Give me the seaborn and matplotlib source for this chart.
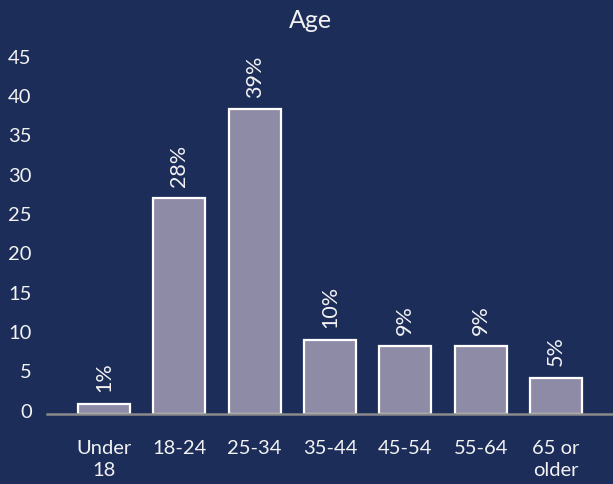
import pandas as pd
import matplotlib
matplotlib.use("Agg")
import matplotlib.pyplot as plt
import matplotlib.transforms as mtransforms
import seaborn as sns

# --- Data ---
age_groups = ['Under\n18', '18-24', '25-34', '35-44', '45-54', '55-64', '65 or\nolder']
share = [1.3, 27.4, 38.7, 9.4, 8.6, 8.6, 4.6]
share_labels = ['1%', '28%', '39%', '10%', '9%', '9%', '5%']

df = pd.DataFrame({'age': age_groups, 'share': share})

# --- Style ---
bg = '#1c2d5a'
bar_color = '#8e8ba6'
text_color = '#f2f2f2'

sns.set_style('white')
plt.rcParams['font.family'] = ['Lato', 'DejaVu Sans']

fig = plt.figure(figsize=(6.13, 4.85), dpi=100, facecolor=bg)
ax = fig.add_axes([47 / 613, 70 / 485, 566 / 613, 374 / 485], facecolor=bg)

sns.barplot(
    data=df, x='age', y='share', color=bar_color, saturation=1,
    edgecolor='white', linewidth=1.6, width=0.69, ax=ax
)

# value labels above bars
ax.bar_label(ax.containers[0], labels=share_labels, rotation=90,
             padding=9, color=text_color, fontsize=15.5)

ax.set_xlim(-0.757, 6.757)
ax.set_ylim(0, 47.5)
ax.set_yticks(range(0, 50, 5))
ax.set_xlabel('')
ax.set_ylabel('')

for side in ['top', 'right', 'left']:
    ax.spines[side].set_visible(False)
ax.spines['bottom'].set_color('#8a8a8a')
ax.spines['bottom'].set_linewidth(1.8)
ax.spines['bottom'].set_zorder(5)

ax.tick_params(axis='y', length=0, pad=11, labelsize=14.5, labelcolor=text_color)
ax.tick_params(axis='x', length=0, pad=18, labelsize=14.5, labelcolor=text_color)

# y labels sit a little above their values in the original
shift = mtransforms.ScaledTranslation(0, 3 / 72, fig.dpi_scale_trans)
for lbl in ax.get_yticklabels():
    lbl.set_transform(lbl.get_transform() + shift)
for lbl in ax.get_xticklabels():
    lbl.set_linespacing(1.35)

fig.text(310 / 613, 1 - 28 / 485, 'Age', ha='center', va='baseline',
         fontsize=18, color=text_color)

fig.savefig('out.png', facecolor=bg)
